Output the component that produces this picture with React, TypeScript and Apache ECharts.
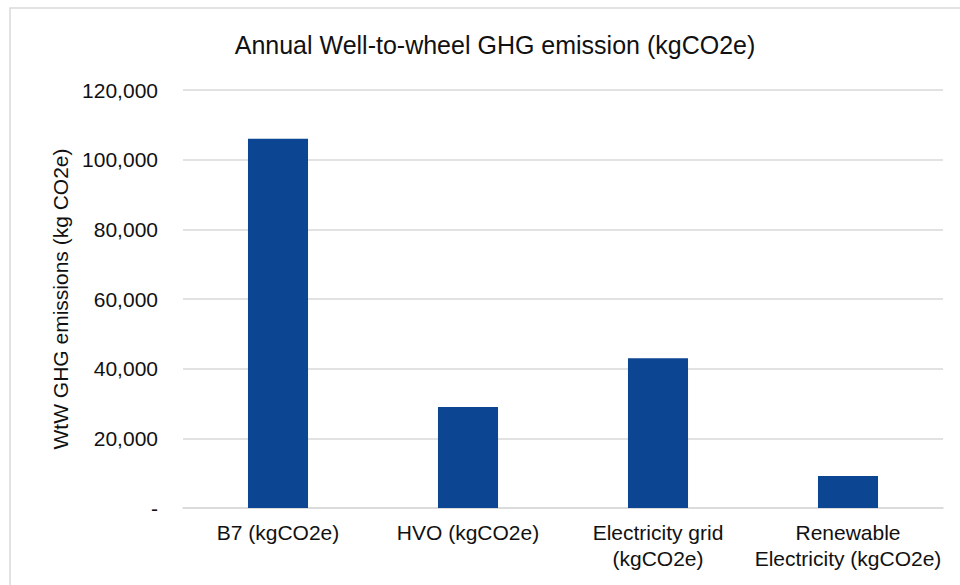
import React, { useEffect, useRef } from "react";
import * as echarts from "echarts";

const titleText = "Annual Well-to-wheel GHG emission (kgCO2e)";
const yAxisName = "WtW GHG emissions (kg CO2e)";
const categories = [
  "B7 (kgCO2e)",
  "HVO (kgCO2e)",
  "Electricity grid\n(kgCO2e)",
  "Renewable\nElectricity (kgCO2e)",
];
const emissions = [106000, 29000, 43000, 9200];
const yMin = 0;
const yMax = 120000;
const yInterval = 20000;

export default function App() {
  const ref = useRef<HTMLDivElement>(null);
  useEffect(() => {
    if (!ref.current) return;
    const chart = echarts.init(ref.current, undefined, { renderer: "svg" });
    const font = "Liberation Sans, Arial, sans-serif";
    chart.setOption({
      animation: false,
      backgroundColor: "#ffffff",
      title: {
        text: titleText,
        left: 490,
        textAlign: "center",
        top: 27,
        textStyle: { fontFamily: font, fontSize: 25, fontWeight: "normal", color: "#111" },
      },
      graphic: [
        {
          type: "rect",
          shape: { x: 10, y: 8, width: 970, height: 600 },
          style: { fill: "none", stroke: "#d9d9d9", lineWidth: 1.5 },
          silent: true,
        },
      ],
      grid: { left: 183, right: 17, top: 90, bottom: 77 },
      xAxis: {
        type: "category",
        data: categories,
        axisLine: { show: true, lineStyle: { color: "#d9d9d9", width: 1.5 } },
        axisTick: { show: false },
        axisLabel: {
          fontFamily: font,
          fontSize: 21,
          color: "#111",
          margin: 11,
          lineHeight: 26,
          interval: 0,
        },
      },
      yAxis: {
        type: "value",
        min: yMin,
        max: yMax,
        interval: yInterval,
        name: yAxisName,
        nameLocation: "middle",
        nameGap: 110,
        nameRotate: 90,
        nameTextStyle: { fontFamily: font, fontSize: 21, color: "#111" },
        axisLine: { show: false },
        axisTick: { show: false },
        splitLine: { lineStyle: { color: "#d9d9d9", width: 1.5 } },
        axisLabel: {
          fontFamily: font,
          fontSize: 21,
          color: "#111",
          margin: 25,
          formatter: (v: number) => (v === 0 ? "-" : v.toLocaleString("en-US")),
        },
      },
      series: [
        {
          type: "bar",
          data: emissions,
          barWidth: "31.6%",
          itemStyle: { color: "#0c4592" },
        },
      ],
    });
    return () => chart.dispose();
  }, []);
  return (
    <div
      ref={ref}
      style={{ position: "absolute", left: 0, top: 0, width: 960, height: 585 }}
    />
  );
}
